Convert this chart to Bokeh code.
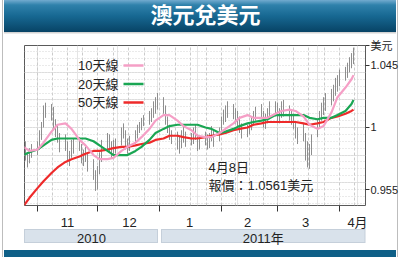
import numpy as np
import pandas as pd
from bokeh.plotting import figure
from bokeh.models import LinearAxis, FixedTicker, Range1d, BoxAnnotation, Label, Grid, Title
from bokeh.embed import file_html
from bokeh.resources import INLINE

# ---------------- data ----------------
trade_dates = pd.bdate_range("2010-10-25", "2011-04-08")

highs = [0.994, 0.990, 0.982, 0.985, 0.988,
         0.990, 0.998, 1.004, 1.016, 1.018,
         1.017, 1.015, 1.006, 1.002, 0.996,
         0.995, 0.990, 0.983, 0.991, 0.992,
         0.993, 0.988, 0.984, 0.986, 0.982,
         0.977, 0.969, 0.972, 0.982, 0.991,
         0.996, 0.995, 0.990, 0.991, 0.992,
         1.000, 1.003, 0.998, 0.992, 0.994,
         0.998, 1.002, 1.004, 1.007, 1.009,
         1.012, 1.014, 1.019, 1.022, 1.025,
         1.022, 1.016, 1.008, 1.002, 0.998,
         0.997, 0.994, 0.998, 1.001, 0.997,
         0.996, 1.000, 1.002, 0.995, 0.994,
         0.997, 0.995, 0.996, 1.001, 0.998,
         1.000, 1.008, 1.013, 1.016, 1.019,
         1.017, 1.014, 1.012, 1.008, 1.003,
         1.002, 1.004, 1.008, 1.012, 1.015,
         1.017, 1.012, 1.010, 1.014, 1.019,
         1.019, 1.018, 1.014, 1.019, 1.020,
         1.016, 1.013, 1.010, 1.004, 1.000,
         1.003, 0.996, 0.990, 0.988, 0.995,
         1.006, 1.012, 1.018, 1.022, 1.025,
         1.028, 1.031, 1.036, 1.038, 1.042,
         1.044, 1.047, 1.051, 1.054, 1.058]

lows = [0.985, 0.976, 0.971, 0.974, 0.978,
        0.980, 0.984, 0.991, 1.000, 1.007,
        1.005, 0.999, 0.993, 0.989, 0.982,
        0.983, 0.975, 0.972, 0.978, 0.981,
        0.983, 0.974, 0.972, 0.975, 0.968,
        0.962, 0.954, 0.955, 0.966, 0.975,
        0.984, 0.982, 0.978, 0.980, 0.981,
        0.987, 0.992, 0.984, 0.981, 0.983,
        0.988, 0.992, 0.996, 0.998, 1.001,
        1.002, 1.004, 1.007, 1.010, 1.013,
        1.010, 1.002, 0.996, 0.991, 0.988,
        0.984, 0.981, 0.985, 0.989, 0.986,
        0.987, 0.988, 0.991, 0.983, 0.984,
        0.987, 0.984, 0.985, 0.990, 0.986,
        0.990, 0.995, 1.002, 1.004, 1.007,
        1.006, 1.003, 1.001, 0.996, 0.992,
        0.993, 0.995, 0.998, 1.002, 1.005,
        1.007, 1.000, 0.999, 1.003, 1.006,
        1.008, 1.004, 1.003, 1.007, 1.008,
        1.005, 1.002, 0.999, 0.992, 0.988,
        0.990, 0.976, 0.971, 0.970, 0.980,
        0.993, 1.000, 1.005, 1.009, 1.012,
        1.016, 1.019, 1.023, 1.026, 1.030,
        1.034, 1.036, 1.040, 1.043, 1.046]

ma_dates = ["2010-10-25", "2010-10-28", "2010-11-01", "2010-11-04", "2010-11-08",
            "2010-11-11", "2010-11-15", "2010-11-18", "2010-11-22", "2010-11-25",
            "2010-11-29", "2010-12-02", "2010-12-06", "2010-12-09", "2010-12-13",
            "2010-12-16", "2010-12-20", "2010-12-23", "2010-12-27", "2010-12-30",
            "2011-01-03", "2011-01-06", "2011-01-10", "2011-01-13", "2011-01-17",
            "2011-01-20", "2011-01-24", "2011-01-27", "2011-01-31", "2011-02-03",
            "2011-02-07", "2011-02-10", "2011-02-14", "2011-02-17", "2011-02-21",
            "2011-02-24", "2011-02-28", "2011-03-03", "2011-03-07", "2011-03-10",
            "2011-03-14", "2011-03-17", "2011-03-21", "2011-03-24", "2011-03-28",
            "2011-03-31", "2011-04-04", "2011-04-07", "2011-04-08"]

ma10 = [0.986, 0.983, 0.984, 0.989, 0.997, 1.002, 1.003, 0.999, 0.991, 0.987,
        0.980, 0.977, 0.977, 0.978, 0.983, 0.986, 0.989, 0.993, 0.999, 1.005,
        1.009, 1.009, 1.005, 1.001, 0.998, 0.994, 0.993, 0.993, 0.996, 0.999,
        1.003, 1.007, 1.009, 1.007, 1.007, 1.007, 1.010, 1.012, 1.013, 1.012,
        1.008, 1.002, 0.999, 1.001, 1.011, 1.022, 1.029, 1.035, 1.038]

ma20 = [0.980, 0.982, 0.984, 0.987, 0.991, 0.992, 0.992, 0.992, 0.992, 0.992,
        0.990, 0.987, 0.983, 0.980, 0.980, 0.980, 0.983, 0.986, 0.991, 0.996,
        0.999, 1.001, 1.002, 1.002, 1.002, 1.002, 1.000, 0.999, 0.996, 0.997,
        0.999, 1.001, 1.003, 1.004, 1.005, 1.006, 1.009, 1.009, 1.009, 1.009,
        1.009, 1.007, 1.006, 1.007, 1.007, 1.009, 1.012, 1.017, 1.020]

ma50 = [0.943, 0.949, 0.956, 0.961, 0.967, 0.971, 0.975, 0.977, 0.979, 0.981,
        0.983, 0.983, 0.984, 0.985, 0.986, 0.986, 0.987, 0.988, 0.989, 0.991,
        0.992, 0.994, 0.994, 0.993, 0.992, 0.992, 0.993, 0.994, 0.995, 0.996,
        0.998, 0.999, 1.000, 1.002, 1.003, 1.004, 1.004, 1.004, 1.004, 1.004,
        1.003, 1.002, 1.003, 1.004, 1.007, 1.008, 1.010, 1.012, 1.013]

month_starts_str = ["2010-11-01", "2010-12-01", "2011-01-01", "2011-02-01", "2011-03-01", "2011-04-01"]
month_names = ["11", "12", "1", "2", "3", "4月"]
year_labels = ["2010", "2011年"]
y_ticks = [0.955, 1.0, 1.045]
y_tick_labels = ["0.955", "1", "1.045"]
series_names = ["10天線", "20天線", "50天線"]
title_text = "澳元兌美元"
unit_text = "美元"
note_lines = ["4月8日", "報價：1.0561美元"]

# ---------------- helpers ----------------
origin = pd.Timestamp("2010-11-01")


def day(d):
    return (pd.Timestamp(d) - origin).days


x_bar = [day(d) for d in trade_dates]
x_ma = [day(d) for d in ma_dates]
month_starts = [day(d) for d in month_starts_str]

MIX = "'Liberation Sans', 'Noto Sans CJK TC', sans-serif"

X0, X1 = -6.5, 164.0
Y0, Y1 = 0.9434, 1.0595
BL, BT, FW, FH = 24, 43, 341, 160
scale = FW / (X1 - X0)


def px(d):
    return BL + (d - X0) * scale


jan = month_starts[2]
year_left = [X0, jan + 1.5 / scale]
year_right = [jan - 1.0 / scale, X1]
year_mid = [(l + r) / 2 for l, r in zip(year_left, year_right)]

# page decoration drawn as CSS background behind the transparent canvas border
layers = [
    ("#d3d3d3", 4, 32, 392, 1.5),
    ("#c5cfda", 24, 229, px(year_right[0]) - 24, 14),
    ("#c5cfda", px(year_left[1]), 229, px(X1) - px(year_left[1]), 14),
    ("#0e5f87", 4, 250, 392, 7),
    ("#bdbdbd", 2, 0, 1, 257),
    ("#bdbdbd", 397, 0, 1, 257),
]
bg = ["linear-gradient(to bottom, #72abcf 0px, #2f81ab 5px, #176892 16px, #074365 32px) "
      "4px 0px / 392px 32px no-repeat"]
bg.append("linear-gradient(#d9e2eb,#d9e2eb) %.1fpx 230px / %.1fpx 12px no-repeat"
          % (25, px(year_right[0]) - 26))
bg.append("linear-gradient(#d9e2eb,#d9e2eb) %.1fpx 230px / %.1fpx 12px no-repeat"
          % (px(year_left[1]) + 1, px(X1) - px(year_left[1]) - 2))
for col, x, y, w, h in layers:
    bg.append("linear-gradient(%s,%s) %.1fpx %.1fpx / %.1fpx %.1fpx no-repeat" % (col, col, x, y, w, h))
bg.append("#ffffff")

p = figure(frame_width=FW, frame_height=FH, output_backend="svg", toolbar_location=None,
           x_range=Range1d(X0, X1), y_range=Range1d(Y0, Y1),
           min_border_left=BL, min_border_right=35, min_border_top=BT, min_border_bottom=54,
           x_axis_location=None, y_axis_location=None,
           styles={"background": ", ".join(bg)})
p.border_fill_alpha = 0
p.background_fill_color = "white"
p.outline_line_color = "#5a5a5a"
p.outline_line_width = 1

# spacer title next to the frame, real title outermost (top of the page)
p.add_layout(Title(text=" ", text_font=MIX, text_font_size="8px", standoff=3), "above")
p.title = Title(text=title_text, align="left", offset=126, vertical_align="top",
                text_color="white", text_font=MIX, text_font_size="22px",
                text_font_style="bold", standoff=4)

# grids
vgrid = []
bounds = month_starts + [day("2011-05-01")]
for a, b in zip(bounds[:-1], bounds[1:]):
    for k in range(4):
        vgrid.append(a + k * (b - a) / 4.0)
hgrid = list(np.round(np.arange(0.945, 1.0595, 0.005), 3))
p.add_layout(Grid(dimension=0, ticker=FixedTicker(ticks=vgrid), grid_line_color="#cbcbcb",
                  grid_line_dash="3 2", grid_line_width=1))
p.add_layout(Grid(dimension=1, ticker=FixedTicker(ticks=hgrid), grid_line_color="#d4d4d4",
                  grid_line_dash="1 2", grid_line_width=1))

# price bars and averages
p.segment(x0=x_bar, y0=lows, x1=x_bar, y1=highs, line_color="#8e8e8e", line_width=1)
p.line(x_ma, ma50, line_color="#ee2a2a", line_width=2.2)
p.line(x_ma, ma20, line_color="#1aa653", line_width=2.2)
p.line(x_ma, ma10, line_color="#f59fc6", line_width=2.2)

# bottom axes: months, then years
mids = [15, 46, 76, 105, 134, 160]
ax = LinearAxis(ticker=FixedTicker(ticks=mids, minor_ticks=month_starts),
                major_label_overrides={m: n for m, n in zip(mids, month_names)},
                major_tick_line_color=None, major_tick_out=0, major_tick_in=0,
                minor_tick_out=6, minor_tick_in=0, minor_tick_line_color="#333333",
                minor_tick_line_width=1, axis_line_color=None,
                major_label_text_font=MIX, major_label_text_font_size="13px",
                major_label_text_color="#222222", major_label_standoff=3)
p.add_layout(ax, "below")

ax2 = LinearAxis(ticker=FixedTicker(ticks=year_mid, minor_ticks=[]),
                 major_label_overrides={m: n for m, n in zip(year_mid, year_labels)},
                 major_tick_line_color=None, major_tick_out=0, major_tick_in=0,
                 minor_tick_line_color=None, axis_line_color=None,
                 major_label_text_font=MIX, major_label_text_font_size="13px",
                 major_label_text_color="#222222", major_label_standoff=-2)
p.add_layout(ax2, "below")

unit_pos = 1.0593
ay = LinearAxis(ticker=FixedTicker(ticks=y_ticks + [unit_pos]),
                major_label_overrides={**{t: s for t, s in zip(y_ticks, y_tick_labels)}, unit_pos: unit_text},
                major_tick_out=4, major_tick_in=0, major_tick_line_color="#333333",
                minor_tick_line_color=None, axis_line_color=None,
                major_label_text_font=MIX, major_label_text_font_size="11px",
                major_label_text_color="#222222", major_label_standoff=1)
p.add_layout(ay, "right")

FB = BT + FH


def label(x, y, text, size="13px", align="left"):
    p.add_layout(Label(x=x - BL, y=FB - y, x_units="screen", y_units="screen", text=text,
                       text_font=MIX, text_font_size=size, text_color="#222222",
                       text_align=align, text_baseline="middle"))


leg_colors = ["#f59fc6", "#1aa653", "#ee2a2a"]
for i, (name, col) in enumerate(zip(series_names, leg_colors)):
    yy = 63 + i * 18.5
    label(118, yy, name, align="right")
    p.add_layout(BoxAnnotation(left=123 - BL, right=143 - BL,
                               top=FB - (yy - 1.2), bottom=FB - (yy + 1.2),
                               left_units="screen", right_units="screen",
                               top_units="screen", bottom_units="screen",
                               fill_color=col, fill_alpha=1, line_color=None))

label(208, 165, note_lines[0])
label(208, 183, note_lines[1])

open("out.html", "w").write(file_html(p, INLINE))
